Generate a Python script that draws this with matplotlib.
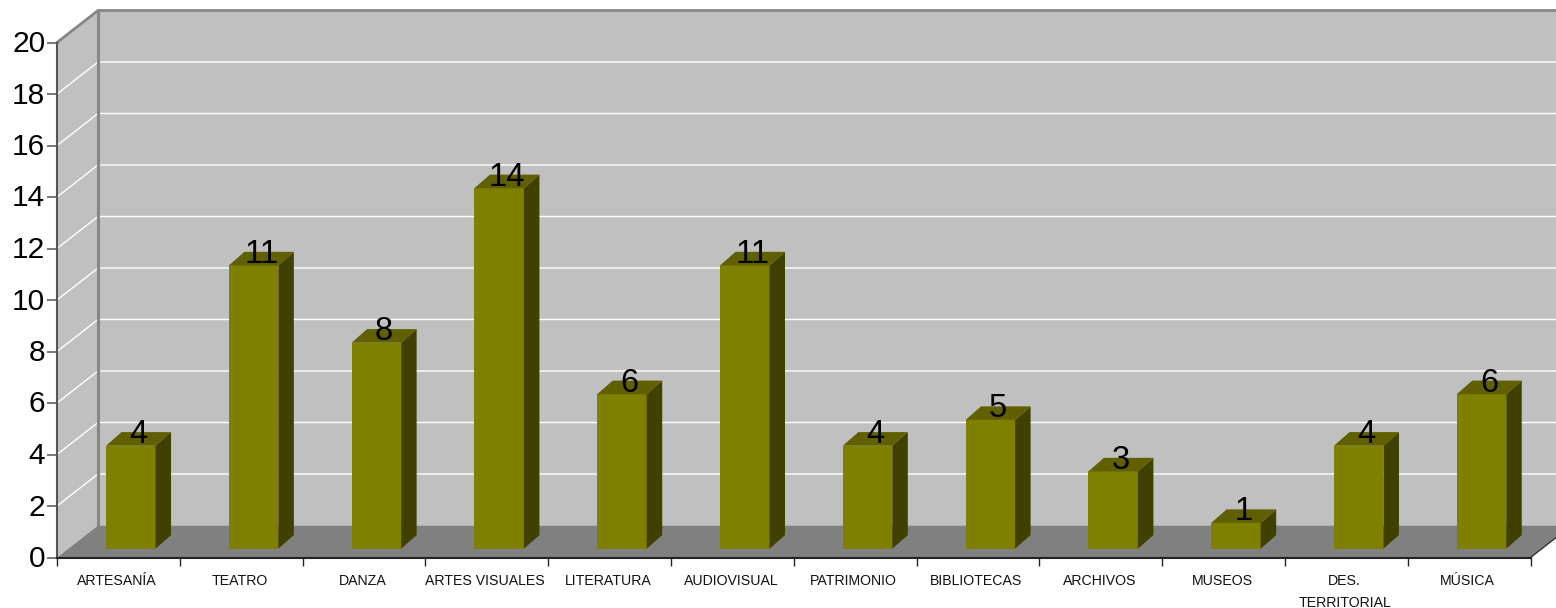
import matplotlib
matplotlib.use("Agg")
import matplotlib.pyplot as plt
from matplotlib.patches import Polygon
from matplotlib.transforms import ScaledTranslation

plt.rcParams['font.family'] = ['Liberation Sans', 'DejaVu Sans']

categories = ["ARTESANÍA", "TEATRO", "DANZA", "ARTES VISUALES", "LITERATURA", "AUDIOVISUAL",
              "PATRIMONIO", "BIBLIOTECAS", "ARCHIVOS", "MUSEOS", "DES.\nTERRITORIAL", "MÚSICA"]
values = [4, 11, 8, 14, 6, 11, 4, 5, 3, 1, 4, 6]
y_ticks = list(range(0, 21, 2))

W, H = 1556, 608
L, R, T, B = 57.0, 1530.5, 42.5, 557.5
fig = plt.figure(figsize=(W / 100, H / 100), dpi=100, facecolor='white')
ax = fig.add_axes([L / W, (H - B) / H, (R - L) / W, (B - T) / H])
ax.set_xlim(0, len(categories))
ax.set_ylim(0, 20)
ax.patch.set_visible(False)

PX = len(categories) / (R - L)   # data x per pixel
PY = 20 / (B - T)                # data y per pixel
n = len(categories)
DX, DY = 41 * PX, 32 * PY        # depth of the box

WALL, FLOOR, EDGE = '#C0C0C0', '#808080', '#868686'
FRONT, SIDE, TOP = '#808000', '#404000', '#606000'


def poly(pts, fc, z, ec='none', lw=0):
    ax.add_patch(Polygon(pts, closed=True, facecolor=fc, edgecolor=ec, linewidth=lw,
                         zorder=z, clip_on=False))


# walls and floor
poly([(0, 0), (DX, DY), (n + DX, DY), (n + DX, 20 + DY), (DX, 20 + DY), (0, 20)], WALL, 1)
poly([(0, 0), (DX, DY), (n + DX, DY), (n, 0)], FLOOR, 2)

# gridlines on the side and back walls
for v in y_ticks[1:-1]:
    ax.plot([0, DX, n + DX], [v, v + DY, v + DY], color='white', lw=1.0, zorder=1.5, clip_on=False)

# wall edges
ax.plot([0, DX, n + DX], [20, 20 + DY, 20 + DY], color=EDGE, lw=2, zorder=3, clip_on=False)
ax.plot([DX, DX], [DY, 20 + DY], color=EDGE, lw=2.2, zorder=1.8, clip_on=False)
ax.plot([n, n + DX], [0, DY], color='#333333', lw=1, zorder=3, clip_on=False)

# bars
bar_w = 49.5 * PX
sx, sy = 12.4 * PX, 8.8 * PY       # front face position inside the depth
dx, dy = 15.5 * PX, 13.6 * PY      # bar depth
centers = [i + 0.5 + sx for i in range(n)]
ax.bar(centers, values, width=bar_w, bottom=sy, color=FRONT, zorder=5, clip_on=False)
for c, v in zip(centers, values):
    x0, x1, top = c - bar_w / 2, c + bar_w / 2, sy + v
    poly([(x1, sy), (x1 + dx, sy + dy), (x1 + dx, top + dy), (x1, top)], SIDE, 5)
    poly([(x0, top), (x0 + dx, top + dy), (x1 + dx, top + dy), (x1, top)], TOP, 5)
    ax.text(c + 7.5 * PX, top + 11 * PY, str(v), fontsize=23.5, color='black',
            ha='center', va='center', zorder=6, clip_on=False)

# axes
for s in ('top', 'right'):
    ax.spines[s].set_visible(False)
ax.spines['left'].set_color('#555555')
ax.spines['left'].set_linewidth(1.5)
ax.spines['left'].set_zorder(4)
ax.spines['bottom'].set_color('#222222')
ax.spines['bottom'].set_linewidth(1.5)
ax.spines['bottom'].set_zorder(4)

ax.set_yticks(y_ticks)
ax.tick_params(axis='y', length=7, width=1.1, color='#555555', labelsize=21.5, pad=1.5)
shift_up = ScaledTranslation(0, 1.5 / 100, fig.dpi_scale_trans)
for lab in ax.get_yticklabels():
    lab.set_transform(lab.get_transform() + shift_up)

ax.set_xticks(range(n + 1))
ax.set_xticklabels([''] * (n + 1))
ax.tick_params(axis='x', which='major', length=6, width=1, color='#222222')
ax.set_xticks([i + 0.5 - 1.5 * PX for i in range(n)], minor=True)
ax.set_xticklabels(categories, minor=True, fontsize=10.2, color='#111111', linespacing=1.75)
ax.tick_params(axis='x', which='minor', length=0, pad=12)

fig.savefig('out.png', dpi=100, facecolor='white')
